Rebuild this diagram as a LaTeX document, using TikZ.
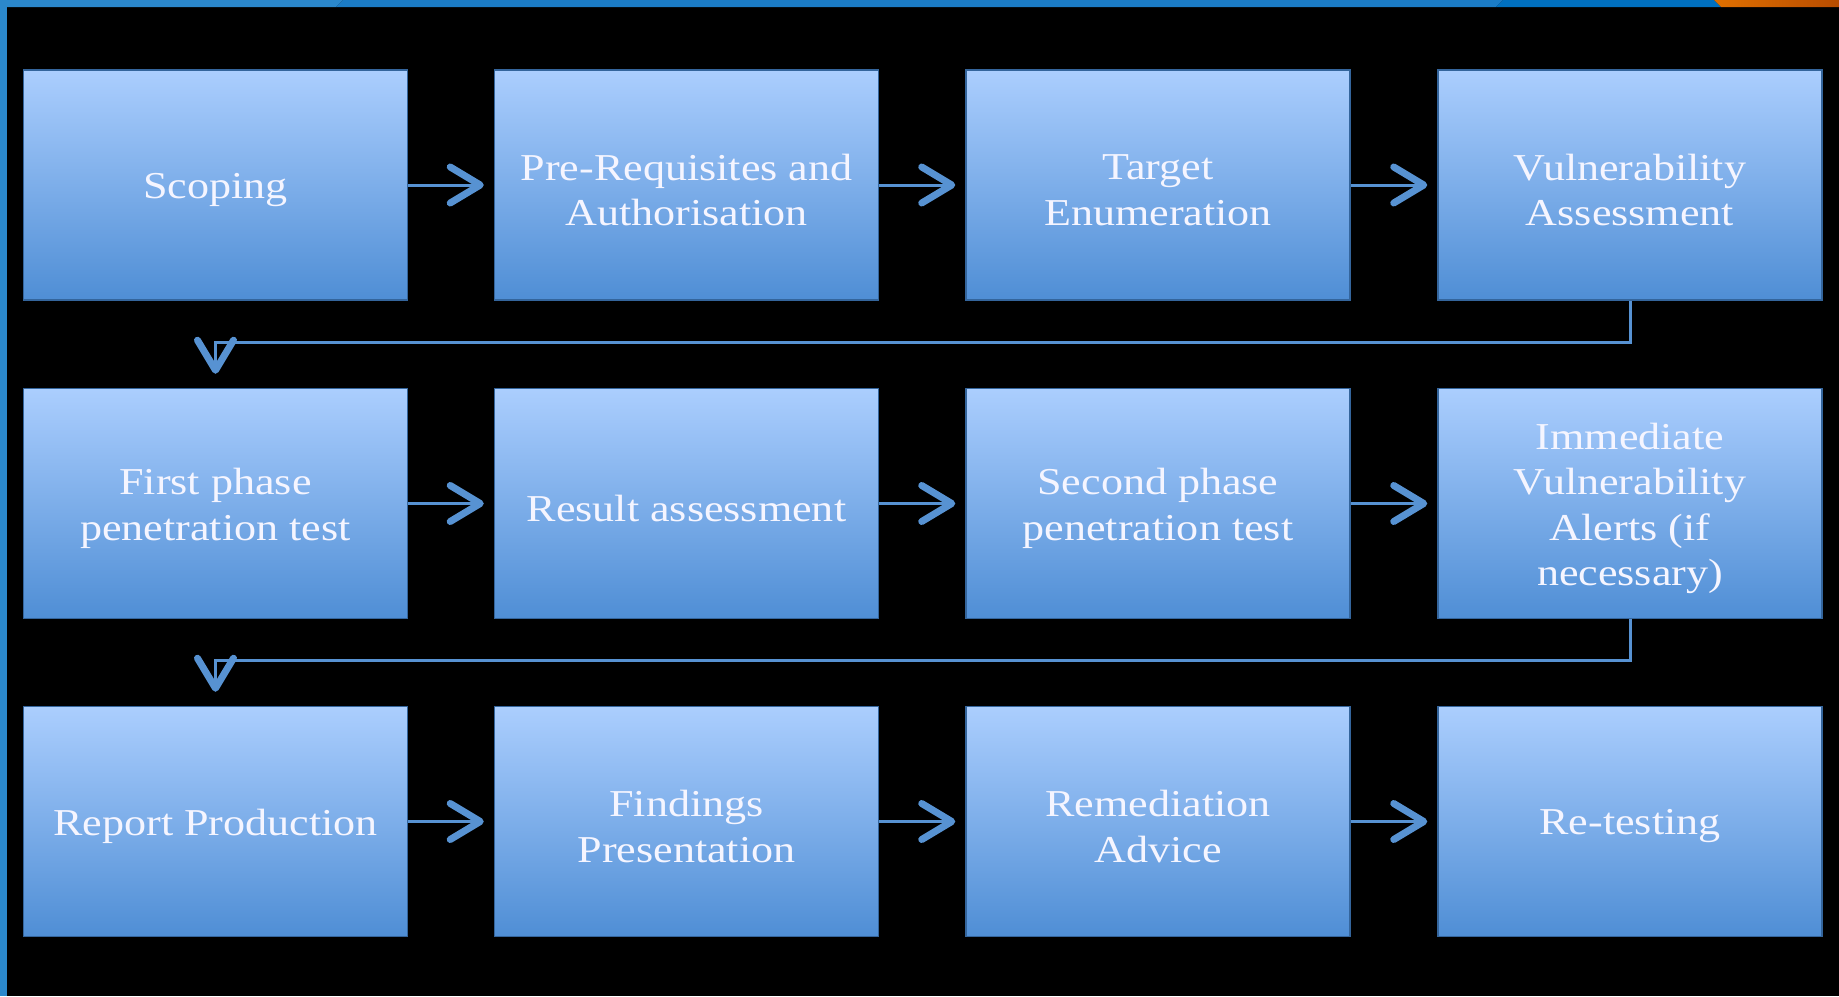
\documentclass[tikz,border=0pt]{standalone}
\usepackage{fontspec}
\setmainfont{Liberation Serif}[FakeStretch=1.16]
\usetikzlibrary{arrows.meta,calc}
\definecolor{boxtop}{HTML}{ABCEFE}
\definecolor{boxbot}{HTML}{4F8ED5}
\definecolor{boxedge}{HTML}{34659C}
\definecolor{conncol}{HTML}{5792D2}
\definecolor{stripeA}{HTML}{2B88CC}
\definecolor{stripeB}{HTML}{1B7CC6}
\definecolor{stripeC}{HTML}{0070C0}
\definecolor{orangeA}{HTML}{E07000}
\definecolor{orangeB}{HTML}{B84C00}
\newcommand\stepnode[3]{%
  \node[stepbox] (#1) at (#2) {};
  \node[steptext] (#1t) at ([yshift=-5pt]#1.center) {#3};}
\begin{document}
\begin{tikzpicture}[x=1pt,y=-1pt,
  stepbox/.style={rectangle, minimum width=384pt, minimum height=230pt, inner sep=0pt,
    top color=boxtop, bottom color=boxbot, draw=boxedge, line width=1.5pt},
  steptext/.style={inner sep=0pt, text=white!96!blue, align=center,
    font=\fontsize{38}{45.5}\selectfont},
  conn/.style={draw=conncol, line width=3pt,
    -{Straight Barb[length=30pt,width=36pt,line width=7pt,round]}}]
\useasboundingbox (0,0) rectangle (1839,996);
\fill[black] (0,0) rectangle (1839,996);
% frame stripes
\fill[stripeA] (0,0) rectangle (7,996);
\fill[stripeA] (0,0) -- (343,0) -- (336,7) -- (0,7) -- cycle;
\fill[stripeB] (343,0) -- (1503,0) -- (1496,7) -- (336,7) -- cycle;
\fill[stripeC] (1503,0) -- (1714,0) -- (1721,7) -- (1496,7) -- cycle;
\shade[left color=orangeA, right color=orangeB] (1714,0) -- (1839,0) -- (1839,7) -- (1721,7) -- cycle;
% boxes
\stepnode{b1}{215.5,185}{Scoping}
\stepnode{b2}{686.5,185}{Pre-Requisites and\\Authorisation}
\stepnode{b3}{1158,185}{Target\\Enumeration}
\stepnode{b4}{1630,185}{Vulnerability\\Assessment}
\stepnode{b5}{215.5,503.5}{First phase\\penetration test}
\stepnode{b6}{686.5,503.5}{Result assessment}
\stepnode{b7}{1158,503.5}{Second phase\\penetration test}
\stepnode{b8}{1630,503.5}{Immediate\\Vulnerability\\Alerts (if\\necessary)}
\stepnode{b9}{215.5,821.5}{Report Production}
\stepnode{b10}{686.5,821.5}{Findings\\Presentation}
\stepnode{b11}{1158,821.5}{Remediation\\Advice}
\stepnode{b12}{1630,821.5}{Re-testing}
% connectors
\foreach \a/\b in {b1/b2,b2/b3,b3/b4,b5/b6,b6/b7,b7/b8,b9/b10,b10/b11,b11/b12}
  \draw[conn, shorten >=10pt] (\a.east) -- (\b.west);
\draw[conn, shorten >=14pt] (b4.south) |- ($(b5.north)+(0,-45)$) -- (b5.north);
\draw[conn, shorten >=14pt] (b8.south) |- ($(b9.north)+(0,-45)$) -- (b9.north);
\end{tikzpicture}
\end{document}
